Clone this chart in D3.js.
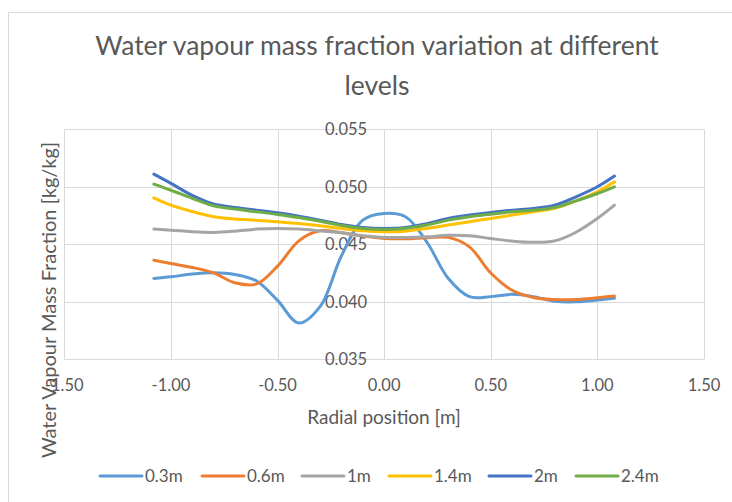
<!DOCTYPE html>
<html>
<head>
<meta charset="utf-8">
<script src="https://cdn.jsdelivr.net/npm/d3@7"></script>
<style>
    body { margin: 0; background: #fff; }
    svg text { font-family: Lato, 'Open Sans', sans-serif; fill: #595959; }
</style>
</head>
<body>
<svg id="chart" width="732" height="502"></svg>
<script>
// Radial positions [m]
const radialPos = [-1.08, -1.0, -0.9, -0.8, -0.7, -0.6, -0.5, -0.4, -0.3, -0.2, -0.1, 0,
    0.1, 0.2, 0.3, 0.4, 0.5, 0.6, 0.7, 0.8, 0.9, 1.0, 1.08];

// Water vapour mass fraction [kg/kg] at each level
const level03 = [0.04203, 0.04217, 0.04241, 0.04252, 0.04238, 0.04183, 0.04012, 0.03815, 0.03960, 0.04400,
    0.04710, 0.04768, 0.04739, 0.04520, 0.04205, 0.04045, 0.04045, 0.04065, 0.04045, 0.04005, 0.04000, 0.04015, 0.04031];
const level06 = [0.04362, 0.04333, 0.04299, 0.04252, 0.04165, 0.04154, 0.04310, 0.04530, 0.04617, 0.04600,
    0.04571, 0.04551, 0.04548, 0.04557, 0.04560, 0.04478, 0.04250, 0.04100, 0.04038, 0.04020, 0.04020, 0.04035, 0.04050];
const level10 = [0.04632, 0.04623, 0.04609, 0.04603, 0.04614, 0.04632, 0.04638, 0.04632, 0.04617, 0.04600,
    0.04575, 0.04560, 0.04559, 0.04565, 0.04578, 0.04575, 0.04550, 0.04528, 0.04517, 0.04530, 0.04605, 0.04725, 0.04841];
const level14 = [0.04904, 0.04840, 0.04785, 0.04740, 0.04720, 0.04710, 0.04696, 0.04681, 0.04661, 0.04638,
    0.04617, 0.04609, 0.04614, 0.04638, 0.04667, 0.04696, 0.04725, 0.04754, 0.04783, 0.04812, 0.04878, 0.04957, 0.05043];
const level20 = [0.05110, 0.05030, 0.04925, 0.04850, 0.04820, 0.04797, 0.04774, 0.04745, 0.04710, 0.04672,
    0.04646, 0.04638, 0.04646, 0.04680, 0.04725, 0.04754, 0.04777, 0.04797, 0.04812, 0.04840, 0.04913, 0.05000, 0.05093];
const level24 = [0.05023, 0.04970, 0.04900, 0.04835, 0.04806, 0.04783, 0.04760, 0.04733, 0.04700, 0.04664,
    0.04638, 0.04629, 0.04638, 0.04667, 0.04710, 0.04739, 0.04762, 0.04783, 0.04797, 0.04820, 0.04878, 0.04942, 0.05000];

const levelNames = ['0.3m', '0.6m', '1m', '1.4m', '2m', '2.4m'];
const levelColors = ['#5B9BD5', '#ED7D31', '#A5A5A5', '#FFC000', '#4472C4', '#70AD47'];
const levelValues = [level03, level06, level10, level14, level20, level24];

const xTicks = [-1.5, -1.0, -0.5, 0, 0.5, 1.0, 1.5];
const yTicks = [0.035, 0.040, 0.045, 0.050, 0.055];

// Excel style numbers: plain hyphen for negatives
const fmt = d3.formatLocale({ decimal: '.', thousands: ',', grouping: [3], currency: ['', ''], minus: '-' });

const svg = d3.select('#chart');

// outer chart frame
svg.append('rect')
    .attr('x', 8.5).attr('y', 12.5)
    .attr('width', 740).attr('height', 500)
    .attr('fill', '#fff')
    .attr('stroke', '#D9D9D9');

const x = d3.scaleLinear().domain([-1.5, 1.5]).range([64.3, 704]);
const y = d3.scaleLinear().domain([0.035, 0.055]).range([359.3, 129.3]);

// gridlines
const grid = svg.append('g').attr('class', 'grid');
grid.selectAll('.vgrid')
    .data(xTicks)
    .enter()
    .append('line')
    .attr('x1', d => Math.round(x(d)) + 0.5)
    .attr('x2', d => Math.round(x(d)) + 0.5)
    .attr('y1', y(0.055))
    .attr('y2', y(0.035))
    .attr('stroke', '#D9D9D9');
grid.selectAll('.hgrid')
    .data(yTicks)
    .enter()
    .append('line')
    .attr('y1', d => Math.round(y(d)) + 0.5)
    .attr('y2', d => Math.round(y(d)) + 0.5)
    .attr('x1', x(-1.5))
    .attr('x2', x(1.5))
    .attr('stroke', '#D9D9D9');

// x axis labels
svg.append('g')
    .selectAll('text')
    .data(xTicks)
    .enter()
    .append('text')
    .attr('x', d => x(d))
    .attr('y', 391)
    .attr('text-anchor', 'middle')
    .attr('font-size', '16.5px')
    .text(d => fmt.format('.2f')(d));

// y axis labels, sitting against the vertical axis at x = 0
svg.append('g')
    .selectAll('text')
    .data(yTicks)
    .enter()
    .append('text')
    .attr('x', x(0) - 17)
    .attr('y', d => y(d))
    .attr('dy', '0.35em')
    .attr('text-anchor', 'end')
    .attr('font-size', '16.5px')
    .text(d => fmt.format('.3f')(d));

// series lines
const line = d3.line()
    .x(d => x(d[0]))
    .y(d => y(d[1]))
    .curve(d3.curveCatmullRom.alpha(0.5));

svg.append('g')
    .selectAll('path')
    .data(levelValues)
    .enter()
    .append('path')
    .attr('d', vals => line(radialPos.map((r, i) => [r, vals[i]])))
    .attr('fill', 'none')
    .attr('stroke', (d, i) => levelColors[i])
    .attr('stroke-width', 3)
    .attr('stroke-linecap', 'round')
    .attr('stroke-linejoin', 'round');

// titles
svg.append('text')
    .attr('x', 377)
    .attr('y', 55)
    .attr('text-anchor', 'middle')
    .attr('font-size', '26.5px')
    .text('Water vapour mass fraction variation at different');
svg.append('text')
    .attr('x', 377)
    .attr('y', 95)
    .attr('text-anchor', 'middle')
    .attr('font-size', '26.5px')
    .text('levels');

svg.append('text')
    .attr('x', 384)
    .attr('y', 424)
    .attr('text-anchor', 'middle')
    .attr('font-size', '19px')
    .text('Radial position [m]');

svg.append('text')
    .attr('transform', 'translate(56, 300) rotate(-90)')
    .attr('text-anchor', 'middle')
    .attr('font-size', '20px')
    .text('Water Vapour Mass Fraction [kg/kg]');

// legend
const legendX = [100, 202, 302, 389, 489, 576];
const legend = svg.append('g')
    .selectAll('g')
    .data(levelNames)
    .enter()
    .append('g')
    .attr('transform', (d, i) => `translate(${legendX[i]}, 476)`);
legend.append('line')
    .attr('x1', 0).attr('x2', 42)
    .attr('stroke', (d, i) => levelColors[i])
    .attr('stroke-width', 3)
    .attr('stroke-linecap', 'round');
legend.append('text')
    .attr('x', 45)
    .attr('dy', '0.35em')
    .attr('font-size', '17px')
    .text(d => d);
</script>
</body>
</html>
